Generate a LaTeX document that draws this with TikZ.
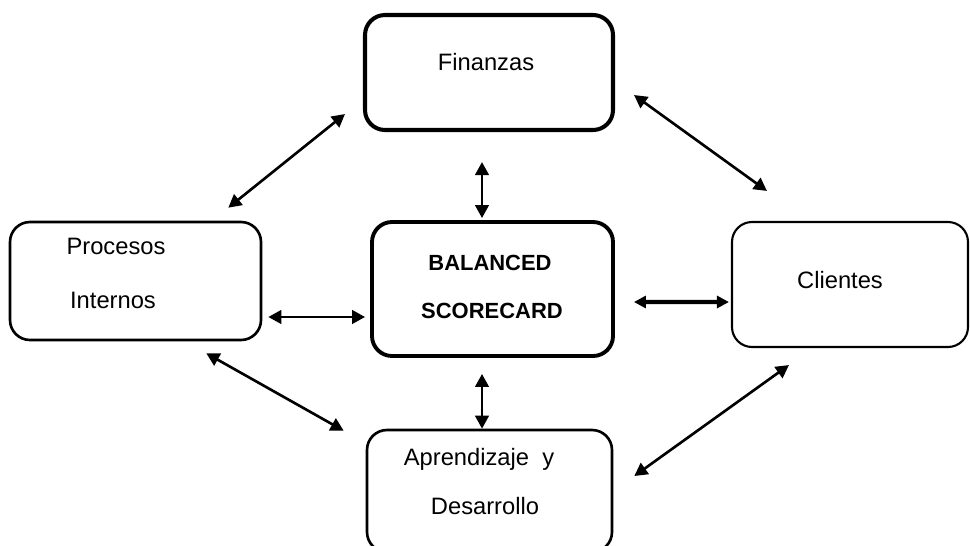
\documentclass[tikz,border=0pt]{standalone}
\usepackage{fontspec}
\setmainfont{Liberation Sans}
\usetikzlibrary{calc,arrows.meta}
\begin{document}
\begin{tikzpicture}[x=0.02cm,y=-0.02cm,
  box/.style={draw=black,rounded corners=0.4cm,inner sep=0pt,fill=white},
  lbl/.style={font=\fontsize{13.5}{16}\selectfont,inner sep=0pt},
  blbl/.style={font=\fontsize{12.5}{15}\selectfont\bfseries,inner sep=0pt},
  arr/.style={line width=1.5pt,{Triangle[length=2.6mm,width=2.7mm]}-{Triangle[length=2.6mm,width=2.7mm]}},
  thickarr/.style={line width=2.5pt,{Triangle[length=2.4mm,width=2.4mm]}-{Triangle[length=2.4mm,width=2.4mm]}}]
\useasboundingbox (0,0) rectangle (970,545);
% the five perspective boxes
\node[box,line width=2.3pt,minimum width=248*0.02cm,minimum height=115*0.02cm] (fin) at (489,72.5) {};
\node[box,line width=1.5pt,minimum width=251*0.02cm,minimum height=118*0.02cm] (proc) at (135.5,281) {};
\node[box,line width=2.2pt,minimum width=241*0.02cm,minimum height=134*0.02cm] (bsc) at (492.5,289) {};
\node[box,line width=1.2pt,minimum width=236*0.02cm,minimum height=125*0.02cm] (cli) at (850,284.5) {};
\node[box,line width=1.5pt,minimum width=245*0.02cm,minimum height=122*0.02cm] (apr) at (489.5,491) {};
% labels
\node[lbl] (finT) at (486,62) {Finanzas};
\node[lbl] (procT1) at (116,246) {Procesos};
\node[lbl] (procT2) at (113,300) {Internos};
\node[blbl] (bscT1) at (490,263) {BALANCED};
\node[blbl] (bscT2) at (492,311) {SCORECARD};
\node[lbl] (cliT) at (840,280) {Clientes};
\node[lbl] (aprT1) at (479,459) {Aprendizaje\ \ y};
\node[lbl] (aprT2) at (485,506) {Desarrollo};
% connectors
\draw[arr] ($(fin.south)+(-7,30)$) -- ($(bsc.north)+(-10.5,-2)$);
\draw[arr] ($(proc.east)+(6,36)$) -- ($(bsc.west)+(-5,28)$);
\draw[thickarr] ($(bsc.east)+(19,13)$) -- ($(cli.west)+(-2,17.5)$);
\draw[arr] ($(bsc.south)+(-10.5,16)$) -- ($(apr.north)+(-7.5,0)$);
\draw[arr] ($(proc.north east)+(-34,-13)$) -- ($(fin.south west)+(-18,-18)$);
\draw[arr] ($(fin.south east)+(19,-37)$) -- ($(cli.north west)+(36,-30)$);
\draw[arr] ($(proc.south east)+(-56,12)$) -- ($(apr.north west)+(-22,2)$);
\draw[arr] ($(cli.south west)+(58,17)$) -- ($(apr.east)+(21,-15)$);
\end{tikzpicture}
\end{document}
